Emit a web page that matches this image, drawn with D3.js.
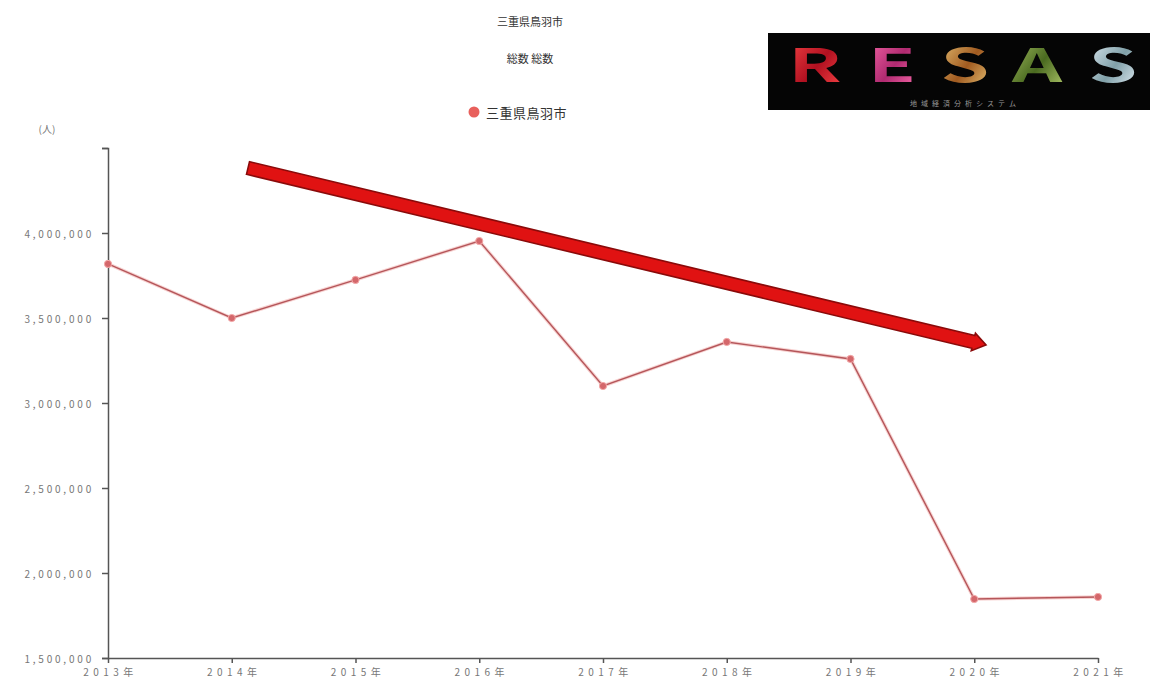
<!DOCTYPE html>
<html>
<head>
<meta charset="utf-8">
<script src="https://cdn.jsdelivr.net/npm/d3@7/dist/d3.min.js"></script>
<style>
  html, body { margin: 0; padding: 0; background: #fff; }
  svg { display: block; }
  text { font-family: "Noto Sans CJK JP", "Noto Sans", sans-serif; }
</style>
</head>
<body>
<svg id="chart" width="1150" height="686"></svg>
<script>
// Annual visitor totals, Toba city (Mie)
const years = ["2013年", "2014年", "2015年", "2016年", "2017年", "2018年", "2019年", "2020年", "2021年"];
const visitors = [3818000, 3500000, 3724000, 3953000, 3100000, 3359000, 3259000, 1847000, 1859000];
const yTicks = [1500000, 2000000, 2500000, 3000000, 3500000, 4000000, 4500000];
const seriesName = "三重県鳥羽市";
const titleText = "三重県鳥羽市";
const subtitleText = "総数 総数";
const unitLabel = "(人)";

const svg = d3.select("#chart");
const margin = { left: 108, right: 52, top: 148, bottom: 28 };
const W = 1150, H = 686;

const x = d3.scalePoint().domain(years).range([margin.left, W - margin.right]);
const y = d3.scaleLinear().domain([1500000, 4500000]).range([H - margin.bottom, margin.top]);

// titles
svg.append("text").attr("x", 530).attr("y", 26).attr("text-anchor", "middle")
  .attr("font-size", 11).attr("fill", "#333").text(titleText);
svg.append("text").attr("x", 530).attr("y", 63).attr("text-anchor", "middle")
  .attr("font-size", 11).attr("fill", "#333").text(subtitleText);

// legend
svg.append("circle").attr("cx", 474).attr("cy", 112).attr("r", 5.5).attr("fill", "#e8605c");
svg.append("text").attr("x", 486).attr("y", 118).attr("font-size", 13).attr("fill", "#333")
  .attr("letter-spacing", 0.5).text(seriesName);

// y axis
const yAxis = d3.axisLeft(y).tickValues(yTicks).tickSize(6)
  .tickFormat(d => d === 4500000 ? "" : d3.format(",")(d));
const gy = svg.append("g").attr("transform", `translate(${margin.left},0)`).call(yAxis);
gy.select(".domain").attr("stroke", "#555").attr("stroke-width", 1.5);
gy.selectAll(".tick line").attr("stroke", "#555").attr("stroke-width", 1.5);
gy.selectAll(".tick text").attr("font-size", 10).attr("fill", "#777")
  .attr("font-family", "'Liberation Serif', serif").attr("letter-spacing", 2.8)
  .attr("x", -14).attr("dy", "0.45em");

svg.append("text").attr("x", 47).attr("y", 133).attr("text-anchor", "middle")
  .attr("font-size", 10).attr("fill", "#777").text(unitLabel);

// x axis
const xAxis = d3.axisBottom(x).tickSize(5).tickSizeOuter(0);
const gx = svg.append("g").attr("transform", `translate(0,${H - margin.bottom})`).call(xAxis);
gx.select(".domain").attr("stroke", "#555").attr("stroke-width", 1.5);
gx.selectAll(".tick line").attr("stroke", "#555").attr("stroke-width", 1.5);
gx.selectAll(".tick text").attr("font-size", 10).attr("fill", "#777")
  .attr("letter-spacing", 4.5).attr("dy", "0.95em").attr("dx", 2);

// series line
const line = d3.line().x((d, i) => x(years[i])).y(d => y(d));
svg.append("path").datum(visitors).attr("d", line)
  .attr("fill", "none").attr("stroke", "#e87f7c").attr("stroke-width", 3.5).attr("opacity", 0.35);
svg.append("path").datum(visitors).attr("d", line)
  .attr("fill", "none").attr("stroke", "#b5565a").attr("stroke-width", 1.4);
svg.selectAll("circle.pt").data(visitors).join("circle").attr("class", "pt")
  .attr("cx", (d, i) => x(years[i])).attr("cy", d => y(d)).attr("r", 3.6)
  .attr("fill", "#d4676b").attr("stroke", "#f3a8a8").attr("stroke-width", 1);

// trend arrow drawn over the plot
(function () {
  const x0 = 248, y0 = 168, x1 = 986, y1 = 345;
  const ang = Math.atan2(y1 - y0, x1 - x0);
  const ux = Math.cos(ang), uy = Math.sin(ang), nx = -uy, ny = ux;
  const hw = 6.5, headLen = 13, headW = 9;
  const bx = x1 - ux * headLen, by = y1 - uy * headLen;
  const pts = [
    [x0 + nx * hw, y0 + ny * hw],
    [bx + nx * hw, by + ny * hw],
    [bx + nx * headW, by + ny * headW],
    [x1, y1],
    [bx - nx * headW, by - ny * headW],
    [bx - nx * hw, by - ny * hw],
    [x0 - nx * hw, y0 - ny * hw]
  ];
  svg.append("polygon").attr("points", pts.map(p => p.join(",")).join(" "))
    .attr("fill", "#e01212").attr("stroke", "#8a0a0a").attr("stroke-width", 1.6)
    .attr("stroke-linejoin", "miter");
})();

// RESAS logo panel
const logo = svg.append("g");
logo.append("rect").attr("x", 768).attr("y", 33).attr("width", 382).attr("height", 77).attr("fill", "#050505");
const defs = svg.append("defs");
const letterColors = [
  ["#ff4a4a", "#b01020"],
  ["#ff70b0", "#b02a70"],
  ["#f0d080", "#a05a20"],
  ["#b8d070", "#4a6a20"],
  ["#f0f8ff", "#80a0a8"]
];
letterColors.forEach((c, i) => {
  const g = defs.append("linearGradient").attr("id", "lg" + i)
    .attr("x1", 0).attr("y1", 0).attr("x2", 1).attr("y2", 1);
  g.append("stop").attr("offset", "0%").attr("stop-color", c[0]);
  g.append("stop").attr("offset", "55%").attr("stop-color", c[1]);
  g.append("stop").attr("offset", "100%").attr("stop-color", c[0]);
});
const letters = ["R", "E", "S", "A", "S"];
const letterX = [815, 892, 965, 1037, 1113];
letters.forEach((l, i) => {
  logo.append("text").attr("x", letterX[i]).attr("y", 82).attr("text-anchor", "middle")
    .attr("font-family", "'DejaVu Sans', sans-serif").attr("font-weight", "bold")
    .attr("font-size", 46).attr("fill", `url(#lg${i})`)
    .attr("transform", `translate(${letterX[i]},0) scale(1.7,1) translate(${-letterX[i]},0)`)
    .text(l);
});
logo.append("text").attr("x", 965).attr("y", 106).attr("text-anchor", "middle")
  .attr("font-size", 7).attr("fill", "#9a9a9a").attr("letter-spacing", 4)
  .text("地域経済分析システム");
</script>
</body>
</html>
